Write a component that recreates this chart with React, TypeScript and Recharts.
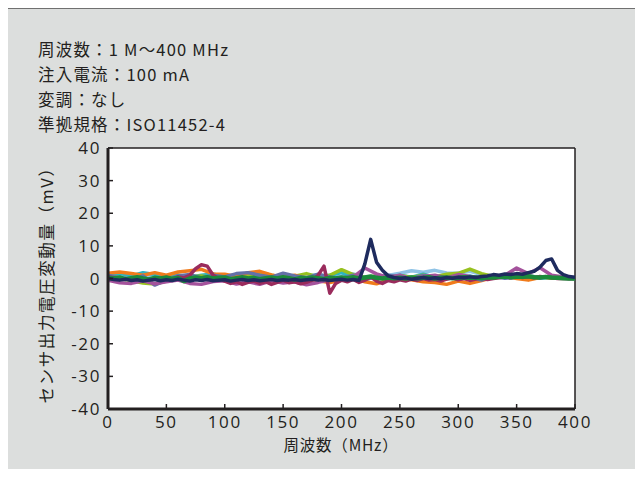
import { CartesianGrid, Line, LineChart, ReferenceLine, XAxis, YAxis } from "recharts";

// frequency grids (MHz)
const F10 = [0, 10, 20, 30, 40, 50, 60, 70, 80, 90, 100, 110, 120, 130, 140, 150, 160, 170, 180, 190, 200,
  210, 220, 230, 240, 250, 260, 270, 280, 290, 300, 310, 320, 330, 340, 350, 360, 370, 380, 390, 400];
const F5 = [0, 5, 10, 15, 20, 25, 30, 35, 40, 45, 50, 55, 60, 65, 70, 75, 80, 85, 90, 95, 100,
  105, 110, 115, 120, 125, 130, 135, 140, 145, 150, 155, 160, 165, 170, 175, 180, 185, 190, 195, 200,
  205, 210, 215, 220, 225, 230, 235, 240, 245, 250, 255, 260, 265, 270, 275, 280, 285, 290, 295, 300,
  305, 310, 315, 320, 325, 330, 335, 340, 345, 350, 355, 360, 365, 370, 375, 380, 385, 390, 395, 400];

// sensor output deviation (mV), one array per sample
const LIGHTBLUE = [0.3, 0.8, 0.2, 0.9, 0.4, -0.2, 0.6, 0.9, 0.2, -0.3, 0.6, 0.2, 0.9, 0.3, -0.2, 0.7, 0.2, 0.8, 1.2, 0.3, 0.8,
  1.4, 0.4, 0.2, 0.9, 1.6, 2.4, 1.9, 2.5, 1.7, 1.6, 2.2, 1.2, 0.8, 0.5, 0.3, 0.8, 0.4, 0.2, 0.3, 0.1];
const TEAL = [1.2, 1.6, 0.8, 1.8, 1.2, 0.4, 1.1, 0.4, 1.0, 1.4, 0.5, 1.2, 0.2, 1.0, 0.5, 0.0, 0.8, -0.2, 0.6, 1.0, 1.8,
  0.5, 0.0, 0.8, 0.3, 1.0, 0.4, 1.3, 0.4, 1.0, 0.2, 0.8, -0.1, 0.5, 0.7, 0.2, 0.5, 0.1, 0.4, 0.2, 0.0];
const LIME = [0.6, 0.2, -0.7, -1.4, -1.7, -0.8, 0.2, 0.5, 0.8, 0.2, 0.9, 0.3, 1.0, 1.8, 1.0, 0.3, 0.7, 1.5, 0.5, 1.0, 2.7,
  1.2, 0.3, 0.8, 0.2, 0.9, 0.3, 1.0, 0.5, 1.3, 1.6, 2.9, 1.5, 0.6, 0.3, 0.7, 0.2, 0.5, 0.1, 0.3, 0.0];
const ORANGE = [1.6, 2.0, 1.5, 1.0, 1.8, 1.0, 2.0, 2.4, 2.8, 1.4, 1.3, 0.6, 1.8, 2.2, 1.1, 0.4, 1.0, 0.0, -0.7, -1.2, -0.5,
  0.4, -1.0, -1.6, -0.5, 0.5, -0.4, -1.0, -1.2, -1.8, -0.8, -1.5, -0.6, 0.4, 0.7, 0.0, -0.5, 0.3, 0.7, 0.3, 0.2];
const SLATE = [1.0, 0.2, -0.5, 0.8, -2.0, -0.5, 0.8, 1.2, 0.2, 1.0, 0.5, 1.5, 1.8, 1.0, 0.4, 1.6, 0.8, 0.2, 1.3, 0.5, 0.0,
  1.0, -0.3, 0.5, 1.0, 0.5, 0.0, 0.9, 0.3, -0.2, 0.7, 0.2, -0.5, 0.6, 0.1, 0.4, 0.8, 0.2, 0.5, 0.1, 0.0];
const MAGENTA = [-0.5, -1.3, -1.5, -0.7, -1.6, -1.0, -0.5, -1.5, -1.8, -0.9, -0.7, -1.7, -1.0, -1.8, -0.7, -1.4, -1.0, -1.9, -1.2, -0.4, -0.2,
  0.4, 3.2, 1.4, 0.3, 1.0, -0.2, 0.6, 1.0, 0.2, 1.2, 0.6, 0.0, 0.6, 1.0, 3.2, 1.5, 3.3, 1.0, 0.5, 0.2];
const MAROON = [0.5, 0.2, -0.3, 0.0, -0.5, 0.3, 0.0, -0.4, 0.2, 0.0, 0.3, -0.2, 0.5, 0.2, 1.0, 3.0, 4.2, 3.8, 1.0, 0.0, -0.8,
  -1.5, -1.0, -1.8, -1.2, -0.8, -1.5, -1.0, -1.8, -1.2, -0.6, -1.3, -1.0, -1.6, -1.2, -0.5, 1.0, 3.8, -4.5, -1.5, -0.5,
  -1.0, -0.3, -1.2, -0.5, 0.5, -0.8, -1.5, -0.6, -1.0, -0.4, -0.8, -0.2, -0.6, 0.0, -0.5, -0.3, -0.8, -0.2, 0.2, -0.4,
  0.0, -0.6, -0.2, 0.3, -0.3, 0.0, 0.2, 0.5, 0.2, 0.6, 0.3, 0.5, 0.2, 0.6, 0.4, 0.2, 0.0, 0.1, -0.1, 0.0];
const GREEN = [0.2, 0.0, 0.3, -0.2, 0.1, 0.4, 0.0, -0.3, 0.2, 0.0, 0.3, -0.1, 0.2, -0.8, 0.0, 0.3, 0.1, 0.4, 0.0, 0.2, 0.3,
  -0.2, 0.1, 0.4, 0.0, 0.2, -0.2, 0.1, 0.3, 0.0, 0.4, 0.1, -0.3, 0.2, 0.0, 0.3, 0.1, -0.2, 0.2, 0.0, 0.3,
  0.1, 0.4, 0.0, 0.3, 0.6, 0.2, 0.0, 0.3, 0.1, 0.2, 0.0, 0.3, 0.1, 0.2, 0.4, 0.0, 0.2, 0.3, 0.1, 0.2,
  0.4, 0.2, 0.3, 0.1, 0.4, 0.3, 0.5, 0.6, 0.4, 0.6, 0.5, 0.7, 0.4, 0.3, 0.5, 0.3, 0.2, 0.1, 0.0, 0.0];
const NAVY = [0.0, -0.3, -0.5, -0.2, -0.6, -0.4, -0.8, -0.5, -0.3, -0.7, -0.4, -0.6, -0.2, -0.5, -0.8, -0.4, -0.6, -0.3, -0.7, -0.5, -0.4,
  -0.8, -0.5, -0.3, -0.6, -0.4, -0.7, -0.5, -0.3, -0.6, -0.4, -0.5, -0.3, -0.6, -0.4, -0.2, -0.5, -0.3, -0.6, -0.4, -0.2,
  -0.5, -0.3, -0.6, 4.5, 12.0, 5.0, 2.5, 0.8, 0.3, 0.0, 0.2, -0.2, 0.1, 0.3, 0.0, 0.2, -0.1, 0.3, 0.1, 0.4,
  0.2, 0.5, 0.3, 0.6, 0.8, 1.2, 1.0, 1.4, 1.2, 1.5, 1.3, 1.8, 2.2, 3.5, 5.5, 6.0, 2.5, 1.2, 0.6, 0.4];

const X_TICKS = [0, 50, 100, 150, 200, 250, 300, 350, 400];
const Y_TICKS = [-40, -30, -20, -10, 0, 10, 20, 30, 40];
const INFO = ["周波数：1 M〜400 MHz", "注入電流：100 mA", "変調：なし", "準拠規格：ISO11452-4"];

const SERIES = [
  { key: "lb", f: F10, v: LIGHTBLUE, color: "#8fc3e6", w: 3.5 },
  { key: "te", f: F10, v: TEAL, color: "#2db4c2", w: 3.5 },
  { key: "li", f: F10, v: LIME, color: "#97c11f", w: 3.5 },
  { key: "or", f: F10, v: ORANGE, color: "#f07b1c", w: 3.5 },
  { key: "sl", f: F10, v: SLATE, color: "#6470a8", w: 3.5 },
  { key: "mg", f: F10, v: MAGENTA, color: "#a4529c", w: 3.5 },
  { key: "mr", f: F5, v: MAROON, color: "#9a2b5c", w: 3.5 },
  { key: "gr", f: F5, v: GREEN, color: "#1b8a3b", w: 4.5 },
  { key: "nv", f: F5, v: NAVY, color: "#1e2b5e", w: 3.5 },
];

const INK = "#231f20";
const TICK_FONT = { fontFamily: "'Open Sans'", fontSize: 17, fill: INK, letterSpacing: 1.6 };
const JP = "'Noto Sans CJK JP', 'Noto Sans', sans-serif";

export default function App() {
  return (
    <div style={{ position: "relative", width: 643, height: 477, margin: -8, background: "#fff", overflow: "hidden" }}>
      <div style={{
        position: "absolute", left: 7, top: 8, width: 632, height: 475, background: "#dcdedd",
        border: "1px solid #707070",
      }} />
      <div style={{
        position: "absolute", left: 38, top: 37, fontFamily: JP, fontSize: 16.5, color: INK,
        lineHeight: "25px", letterSpacing: 1.2,
      }}>
        {INFO.map(s => <div key={s}>{s}</div>)}
      </div>
      <div style={{
        position: "absolute", left: 46, top: 281, transform: "translate(-50%, -50%) rotate(-90deg)",
        whiteSpace: "nowrap", fontFamily: JP, fontSize: 16.5, color: INK, letterSpacing: 1.6, lineHeight: "18px",
      }}>センサ出力電圧変動量（mV）</div>
      <div style={{
        position: "absolute", left: 341, top: 444, transform: "translate(-50%, -50%)",
        whiteSpace: "nowrap", fontFamily: JP, fontSize: 15.5, color: INK, letterSpacing: 0.8, lineHeight: "16px",
      }}>周波数（MHz）</div>
      <div style={{ position: "absolute", left: 0, top: 0 }}>
        <LineChart width={643} height={477} margin={{ top: 148, right: 68, left: 48, bottom: 28 }}>
          <CartesianGrid horizontal={false} vertical={false} fill="#ffffff" />
          <XAxis type="number" dataKey="f" domain={[0, 400]} ticks={X_TICKS} allowDataOverflow
            height={40} tickSize={-5} tickMargin={12} tick={TICK_FONT}
            axisLine={{ stroke: INK, strokeWidth: 3 }} tickLine={{ stroke: INK, strokeWidth: 1.5 }} />
          <YAxis type="number" domain={[-40, 40]} ticks={Y_TICKS} allowDataOverflow
            width={60} tickSize={-5} tickMargin={12} tick={TICK_FONT}
            axisLine={{ stroke: INK, strokeWidth: 3 }} tickLine={{ stroke: INK, strokeWidth: 1.5 }} />
          <ReferenceLine y={40} stroke={INK} strokeWidth={1.5} />
          <ReferenceLine x={400} stroke={INK} strokeWidth={1.5} />
          {SERIES.map(s => (
            <Line key={s.key} data={s.f.map((f, i) => ({ f, v: s.v[i] }))} dataKey="v" type="linear"
              stroke={s.color} strokeWidth={s.w} dot={false} activeDot={false}
              strokeLinejoin="round" isAnimationActive={false} />
          ))}
        </LineChart>
      </div>
    </div>
  );
}
